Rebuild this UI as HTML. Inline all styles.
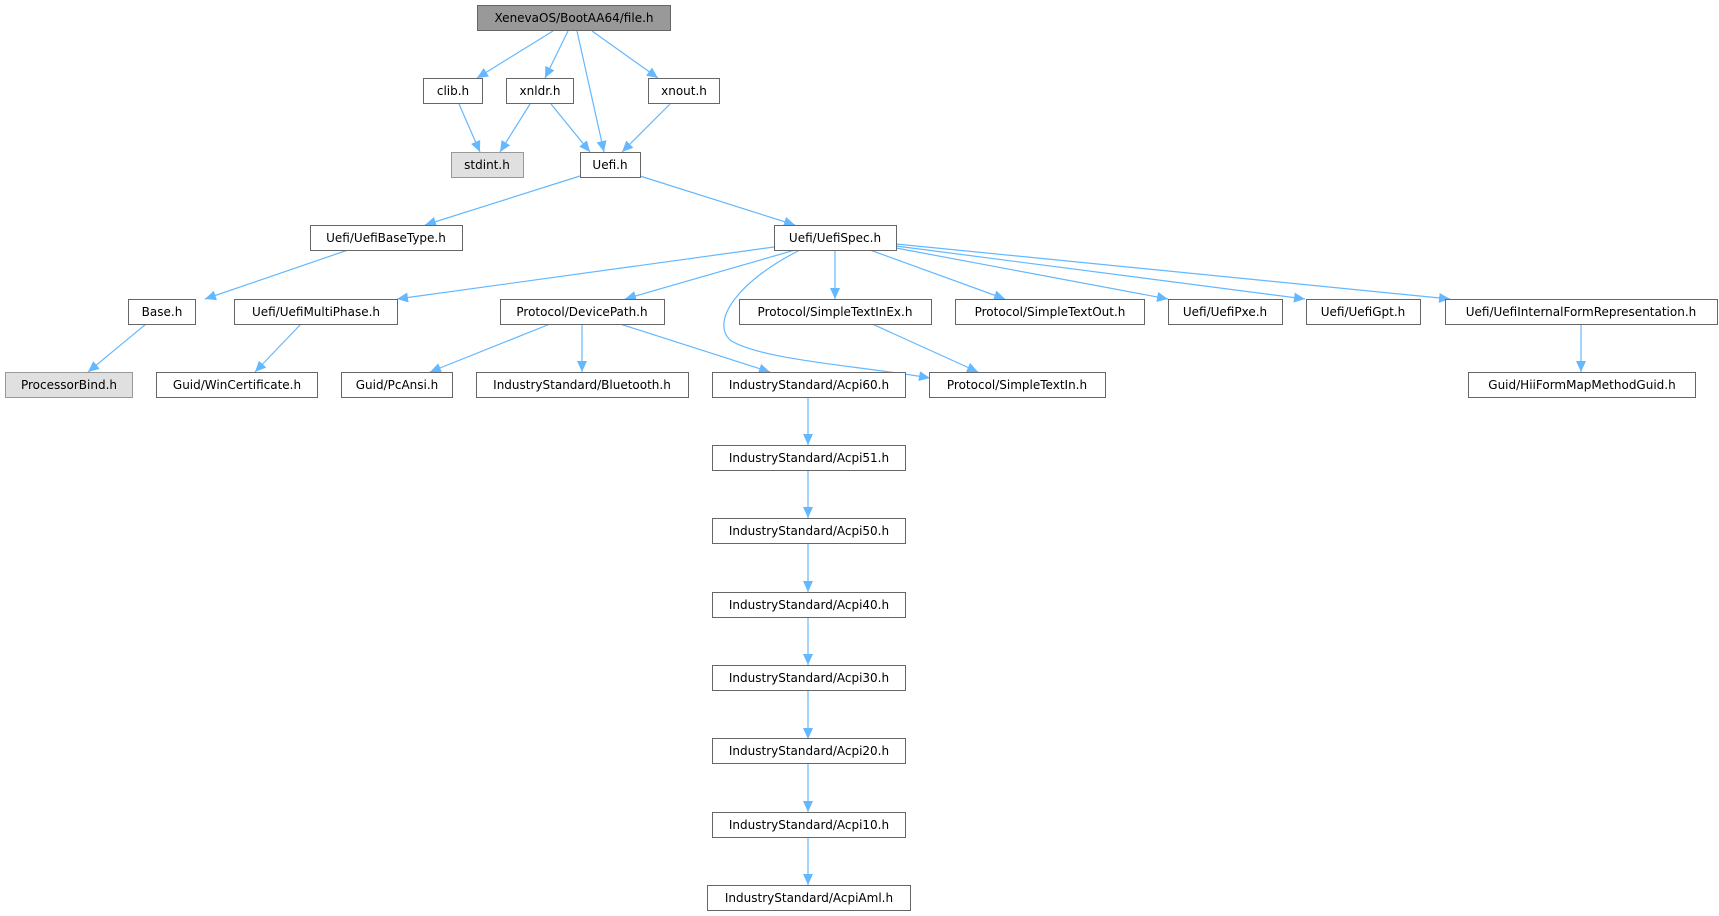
<!DOCTYPE html>
<html><head><meta charset="utf-8"><style>
html,body{margin:0;padding:0;background:#fff;}
svg{display:block;}
text{font-family:"DejaVu Sans","Liberation Sans",sans-serif;font-size:12px;fill:#000;}
</style></head><body>
<svg width="1719" height="916" viewBox="0 0 1719 916" xmlns="http://www.w3.org/2000/svg">
<defs>
<marker id="a" markerWidth="12" markerHeight="10" refX="11" refY="5" orient="auto" markerUnits="userSpaceOnUse">
<path d="M0,0 L11,5 L0,10 z" fill="#63b8ff"/>
</marker>
</defs>
<g stroke="#63b8ff" stroke-width="1.2" fill="none" marker-end="url(#a)">
<line x1="553" y1="31" x2="477" y2="78"/>
<line x1="568" y1="31" x2="545" y2="78"/>
<line x1="577" y1="31" x2="604" y2="152"/>
<line x1="592" y1="31" x2="658" y2="78"/>
<line x1="459" y1="104" x2="480" y2="152"/>
<line x1="530" y1="104" x2="500" y2="152"/>
<line x1="551" y1="104" x2="590" y2="152"/>
<line x1="670" y1="104" x2="622" y2="152"/>
<line x1="580" y1="176" x2="425" y2="225"/>
<line x1="640" y1="176" x2="795" y2="225"/>
<line x1="348" y1="250" x2="205" y2="299"/>
<line x1="774" y1="247" x2="397" y2="299"/>
<line x1="795" y1="250" x2="625" y2="299"/>
<line x1="835" y1="250" x2="835" y2="299"/>
<path d="M800 250 C740 280,710 320,730 340 C760 360,860 366,930 378"/>
<line x1="870" y1="250" x2="1005" y2="299"/>
<line x1="896" y1="248" x2="1168" y2="299"/>
<line x1="896" y1="246" x2="1305" y2="299"/>
<line x1="896" y1="244" x2="1450" y2="299"/>
<line x1="870" y1="323" x2="978" y2="372"/>
<line x1="146" y1="324" x2="88" y2="372"/>
<line x1="301" y1="324" x2="255" y2="372"/>
<line x1="550" y1="324" x2="430" y2="372"/>
<line x1="582" y1="324" x2="582" y2="372"/>
<line x1="620" y1="324" x2="770" y2="372"/>
<line x1="1581" y1="324" x2="1581" y2="372"/>
<line x1="808" y1="397" x2="808" y2="445"/>
<line x1="808" y1="470" x2="808" y2="518"/>
<line x1="808" y1="544" x2="808" y2="592"/>
<line x1="808" y1="617" x2="808" y2="665"/>
<line x1="808" y1="690" x2="808" y2="739"/>
<line x1="808" y1="764" x2="808" y2="812"/>
<line x1="808" y1="837" x2="808" y2="885"/>
</g>
<g stroke="#666" stroke-width="1" fill="#fff">
<rect x="477.5" y="5.5" width="193" height="25" fill="#999"/>
<rect x="423.5" y="78.5" width="59" height="25"/>
<rect x="506.5" y="78.5" width="67" height="25"/>
<rect x="648.5" y="78.5" width="71" height="25"/>
<rect x="451.5" y="152.5" width="72" height="25" fill="#e0e0e0" stroke="#999"/>
<rect x="580.5" y="152.5" width="60" height="25"/>
<rect x="310.5" y="225.5" width="152" height="25"/>
<rect x="774.5" y="225.5" width="122" height="25"/>
<rect x="128.5" y="299.5" width="67" height="25"/>
<rect x="234.5" y="299.5" width="163" height="25"/>
<rect x="500.5" y="299.5" width="164" height="25"/>
<rect x="739.5" y="299.5" width="192" height="25"/>
<rect x="955.5" y="299.5" width="189" height="25"/>
<rect x="1168.5" y="299.5" width="114" height="25"/>
<rect x="1306.5" y="299.5" width="114" height="25"/>
<rect x="1445.5" y="299.5" width="272" height="25"/>
<rect x="5.5" y="372.5" width="127" height="25" fill="#e0e0e0" stroke="#999"/>
<rect x="156.5" y="372.5" width="161" height="25"/>
<rect x="341.5" y="372.5" width="111" height="25"/>
<rect x="476.5" y="372.5" width="212" height="25"/>
<rect x="712.5" y="372.5" width="193" height="25"/>
<rect x="929.5" y="372.5" width="176" height="25"/>
<rect x="1468.5" y="372.5" width="227" height="25"/>
<rect x="712.5" y="445.5" width="193" height="25"/>
<rect x="712.5" y="518.5" width="193" height="25"/>
<rect x="712.5" y="592.5" width="193" height="25"/>
<rect x="712.5" y="665.5" width="193" height="25"/>
<rect x="712.5" y="738.5" width="193" height="25"/>
<rect x="712.5" y="812.5" width="193" height="25"/>
<rect x="707.5" y="885.5" width="203" height="25"/>
</g>
<g text-anchor="middle">
<text x="574" y="22">XenevaOS/BootAA64/file.h</text>
<text x="453" y="95">clib.h</text>
<text x="540" y="95">xnldr.h</text>
<text x="684" y="95">xnout.h</text>
<text x="487" y="169">stdint.h</text>
<text x="610" y="169">Uefi.h</text>
<text x="386" y="242">Uefi/UefiBaseType.h</text>
<text x="835" y="242">Uefi/UefiSpec.h</text>
<text x="162" y="316">Base.h</text>
<text x="316" y="316">Uefi/UefiMultiPhase.h</text>
<text x="582" y="316">Protocol/DevicePath.h</text>
<text x="835" y="316">Protocol/SimpleTextInEx.h</text>
<text x="1050" y="316">Protocol/SimpleTextOut.h</text>
<text x="1225" y="316">Uefi/UefiPxe.h</text>
<text x="1363" y="316">Uefi/UefiGpt.h</text>
<text x="1581" y="316">Uefi/UefiInternalFormRepresentation.h</text>
<text x="69" y="389">ProcessorBind.h</text>
<text x="237" y="389">Guid/WinCertificate.h</text>
<text x="397" y="389">Guid/PcAnsi.h</text>
<text x="582" y="389">IndustryStandard/Bluetooth.h</text>
<text x="809" y="389">IndustryStandard/Acpi60.h</text>
<text x="1017" y="389">Protocol/SimpleTextIn.h</text>
<text x="1582" y="389">Guid/HiiFormMapMethodGuid.h</text>
<text x="809" y="462">IndustryStandard/Acpi51.h</text>
<text x="809" y="535">IndustryStandard/Acpi50.h</text>
<text x="809" y="609">IndustryStandard/Acpi40.h</text>
<text x="809" y="682">IndustryStandard/Acpi30.h</text>
<text x="809" y="755">IndustryStandard/Acpi20.h</text>
<text x="809" y="829">IndustryStandard/Acpi10.h</text>
<text x="809" y="902">IndustryStandard/AcpiAml.h</text>
</g>
</svg>
</body></html>
